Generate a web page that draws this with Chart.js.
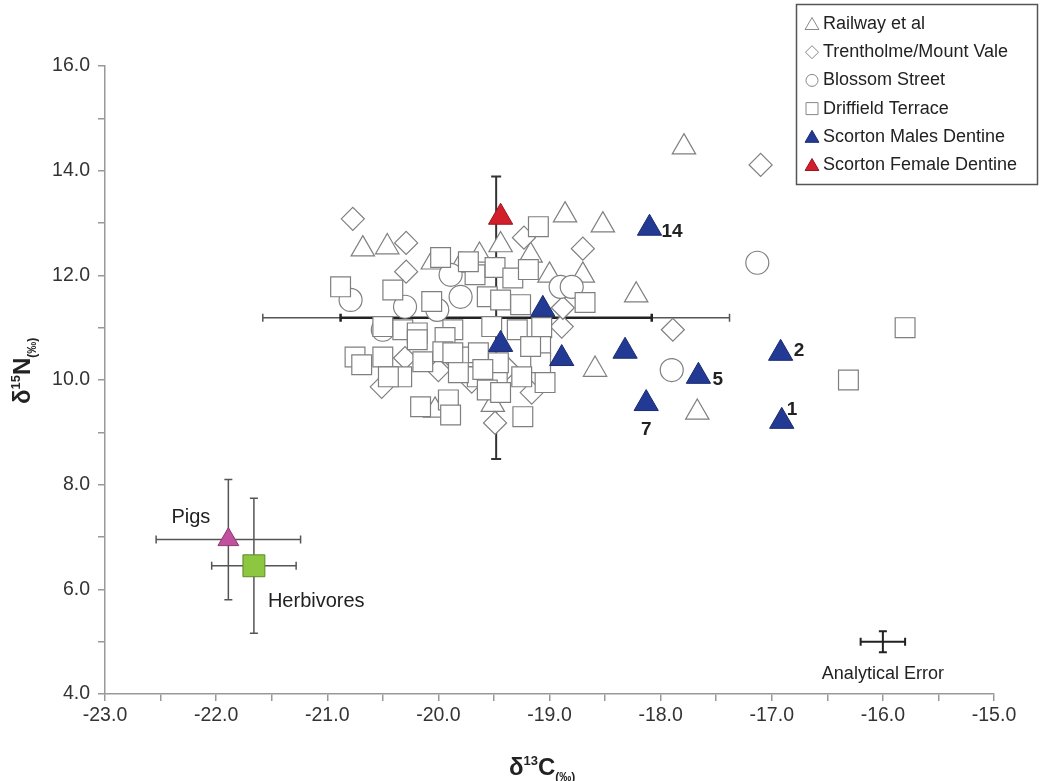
<!DOCTYPE html>
<html>
<head>
<meta charset="utf-8">
<script src="https://cdn.jsdelivr.net/npm/chart.js@4.4.0/dist/chart.umd.min.js"></script>
<style>
  body { margin: 0; background: #fff; }
  #wrap { width: 1043px; height: 781px; position: relative; }
</style>
</head>
<body>
<div id="wrap"><canvas id="grafico"></canvas></div>
<script>
// valores: C = d13C, N = d15N
const railwayC = [-17.79, -18.22, -18.86, -18.52, -18.70, -18.59, -17.67, -20.68, -20.46, -19.44, -19.17, -19.63, -19.80, -19.00, -20.05, -20.03, -19.51];
const railwayN = [14.45, 11.62, 13.15, 12.96, 12.00, 10.20, 9.38, 12.50, 12.54, 12.58, 12.38, 12.38, 12.19, 12.00, 12.25, 9.42, 9.53];

const trentC = [-17.10, -20.77, -20.29, -20.29, -19.23, -18.70, -17.89, -18.89, -18.88, -19.49, -20.51, -20.00, -19.70, -19.16, -19.38, -20.30, -19.83];
const trentN = [14.11, 13.08, 12.62, 12.07, 12.72, 12.51, 10.96, 11.02, 11.38, 9.18, 9.87, 10.19, 9.97, 9.76, 10.23, 10.42, 10.33];

const blossomC = [-17.13, -17.90, -20.79, -20.30, -19.89, -19.80, -18.90, -18.80, -20.50, -20.01];
const blossomN = [12.24, 10.19, 11.53, 11.40, 12.01, 11.59, 11.78, 11.78, 10.96, 11.34];

const driffieldC = [-19.10, -19.98, -20.88, -20.41, -20.06, -19.67, -19.49, -19.33, -19.19, -19.56, -19.44, -19.26, -18.68,
  -20.50, -20.32, -20.19, -19.87, -19.52, -19.29, -19.07, -19.08, -19.08, -19.71, -19.65, -19.47, -19.25, -19.04, -19.56,
  -19.44, -20.19, -19.94, -20.75, -20.69, -20.50, -20.33, -20.45, -20.14, -19.96, -19.91, -20.16, -19.89, -19.24, -19.64,
  -19.87, -19.73, -19.46, -19.17, -19.82, -19.60, -16.31, -15.80];
const driffieldN = [12.93, 12.34, 11.78, 11.72, 11.50, 12.01, 12.15, 11.95, 12.11, 11.59, 11.53, 11.44, 11.48,
  11.02, 10.96, 10.90, 10.96, 11.02, 10.96, 11.00, 10.64, 10.33, 10.44, 10.06, 10.14, 10.06, 9.95, 9.81,
  9.76, 10.77, 10.81, 10.44, 10.29, 10.44, 10.06, 10.06, 10.35, 10.54, 9.62, 9.49, 9.33, 9.30, 10.52,
  10.52, 12.26, 10.33, 10.64, 10.14, 10.20, 10.00, 11.00];

const malesC = [-18.10, -19.06, -19.44, -18.89, -18.32, -17.66, -16.92, -18.13, -16.91];
const malesN = [12.90, 11.35, 10.68, 10.41, 10.55, 10.07, 10.51, 9.55, 9.21];
const malesTag = ['14', '', '', '', '', '5', '2', '7', '1'];

const femaleC = [-19.44];
const femaleN = [13.11];

const pigC = [-21.89], pigN = [6.95], pigErrC = [0.65], pigErrN = [1.15];
const herbC = [-21.66], herbN = [6.45], herbErrC = [0.38], herbErrN = [1.29];

// media con dos rangos en C
const meanC = [-19.48], meanN = [11.19], meanErrC1 = [1.4], meanErrC2 = [2.1], meanErrN = [2.7];
const analC = [-16.0], analN = [5.0], analErr = [0.2];

const xMin = -23, xMax = -15, yMin = 4, yMax = 16;

const legendNames = ['Railway et al', 'Trentholme/Mount Vale', 'Blossom Street', 'Driffield Terrace', 'Scorton Males Dentine', 'Scorton Female Dentine'];

// posiciones de las etiquetas numericas respecto al punto (px)
const tagOffset = { '14': [12, 9, 'left'], '5': [14, 9, 'left'], '2': [13, 3, 'left'], '1': [5, -6, 'left'], '7': [0, 31, 'center'] };

const FONT = "'Liberation Sans', Arial, sans-serif";
const grisBorde = '#7f7f7f';

function puntos(cs, ns) {
    return cs.map((c, i) => ({ x: c, y: ns[i] }));
}

function abierto(label, cs, ns, estilo, radio, orden) {
    return {
        label: label,
        data: puntos(cs, ns),
        pointStyle: estilo,
        pointRadius: radio,
        pointHoverRadius: radio,
        backgroundColor: '#ffffff',
        borderColor: grisBorde,
        borderWidth: 1.2,
        order: orden
    };
}

function errorCruz(ctx, xs, ys, c, n, eC, eN, cap, lw, color) {
    const px = xs.getPixelForValue(c), py = ys.getPixelForValue(n);
    ctx.save();
    ctx.strokeStyle = color;
    ctx.lineWidth = lw;
    ctx.beginPath();
    if (eC) {
        const a = xs.getPixelForValue(c - eC), b = xs.getPixelForValue(c + eC);
        ctx.moveTo(a, py); ctx.lineTo(b, py);
        ctx.moveTo(a, py - cap); ctx.lineTo(a, py + cap);
        ctx.moveTo(b, py - cap); ctx.lineTo(b, py + cap);
    }
    if (eN) {
        const a = ys.getPixelForValue(n - eN), b = ys.getPixelForValue(n + eN);
        ctx.moveTo(px, a); ctx.lineTo(px, b);
        ctx.moveTo(px - cap, a); ctx.lineTo(px + cap, a);
        ctx.moveTo(px - cap, b); ctx.lineTo(px + cap, b);
    }
    ctx.stroke();
    ctx.restore();
}

function marcador(ctx, tipo, x, y, r, fill, stroke) {
    ctx.save();
    ctx.fillStyle = fill;
    ctx.strokeStyle = stroke;
    ctx.lineWidth = 1;
    ctx.beginPath();
    if (tipo === 'triangle') {
        ctx.moveTo(x, y - r);
        ctx.lineTo(x + r * 0.866, y + r * 0.5);
        ctx.lineTo(x - r * 0.866, y + r * 0.5);
        ctx.closePath();
    } else if (tipo === 'rectRot') {
        ctx.moveTo(x - r, y); ctx.lineTo(x, y - r); ctx.lineTo(x + r, y); ctx.lineTo(x, y + r);
        ctx.closePath();
    } else if (tipo === 'circle') {
        ctx.arc(x, y, r, 0, Math.PI * 2);
    } else {
        ctx.rect(x - r * 0.75, y - r * 0.75, r * 1.5, r * 1.5);
    }
    ctx.fill();
    ctx.stroke();
    ctx.restore();
}

function textoRico(ctx, partes, x, y) {
    let cx = x;
    partes.forEach(p => {
        ctx.font = 'bold ' + p.size + 'px ' + FONT;
        ctx.fillText(p.t, cx, y + (p.dy || 0));
        cx += ctx.measureText(p.t).width;
    });
}

const extras = {
    id: 'extras',
    beforeDatasetsDraw(chart) {
        const ctx = chart.ctx, xs = chart.scales.x, ys = chart.scales.y;
        // cruz central
        errorCruz(ctx, xs, ys, meanC[0], meanN[0], meanErrC2[0], 0, 4, 1.5, '#555');
        errorCruz(ctx, xs, ys, meanC[0], meanN[0], meanErrC1[0], 0, 4, 2.5, '#222');
        errorCruz(ctx, xs, ys, meanC[0], meanN[0], 0, meanErrN[0], 5, 2, '#333');
        // cerdos y herbivoros
        errorCruz(ctx, xs, ys, pigC[0], pigN[0], pigErrC[0], pigErrN[0], 4, 1.5, '#555');
        errorCruz(ctx, xs, ys, herbC[0], herbN[0], herbErrC[0], herbErrN[0], 4, 1.5, '#555');
        // error analitico
        errorCruz(ctx, xs, ys, analC[0], analN[0], analErr[0], analErr[0], 4, 2, '#222');
    },
    afterDatasetsDraw(chart) {
        const ctx = chart.ctx, xs = chart.scales.x, ys = chart.scales.y;
        ctx.save();
        ctx.fillStyle = '#222';
        ctx.textBaseline = 'alphabetic';

        ctx.font = 'bold 19px ' + FONT;
        malesTag.forEach((t, i) => {
            if (!t) return;
            const off = tagOffset[t];
            ctx.textAlign = off[2];
            ctx.fillText(t, xs.getPixelForValue(malesC[i]) + off[0], ys.getPixelForValue(malesN[i]) + off[1]);
        });

        ctx.font = '20px ' + FONT;
        ctx.textAlign = 'right';
        ctx.fillText('Pigs', xs.getPixelForValue(pigC[0]) - 18, ys.getPixelForValue(pigN[0]) - 17);
        ctx.textAlign = 'left';
        ctx.fillText('Herbivores', xs.getPixelForValue(herbC[0]) + 14, ys.getPixelForValue(herbN[0]) + 41);
        ctx.font = '18px ' + FONT;
        ctx.textAlign = 'center';
        ctx.fillText('Analytical Error', xs.getPixelForValue(analC[0]), ys.getPixelForValue(analN[0]) + 37);
        ctx.restore();
    },
    afterDraw(chart) {
        const ctx = chart.ctx;
        ctx.save();
        // leyenda
        ctx.fillStyle = '#fff';
        ctx.fillRect(796, 4, 242, 181);
        ctx.strokeStyle = '#555';
        ctx.lineWidth = 1.5;
        ctx.strokeRect(796.5, 4.5, 241, 180);
        const estilos = [
            ['triangle', 8, '#fff', '#888'],
            ['rectRot', 6.5, '#fff', '#888'],
            ['circle', 6, '#fff', '#888'],
            ['rect', 8, '#fff', '#888'],
            ['triangle', 8, '#233a95', '#1a2a70'],
            ['triangle', 8, '#d21f2b', '#9a1620']
        ];
        ctx.font = '18px ' + FONT;
        ctx.textBaseline = 'middle';
        ctx.textAlign = 'left';
        legendNames.forEach((nombre, i) => {
            const y = 24 + i * 28.2;
            const e = estilos[i];
            marcador(ctx, e[0], 812, e[0] === 'triangle' ? y + 1.5 : y, e[1], e[2], e[3]);
            ctx.fillStyle = '#222';
            ctx.fillText(nombre, 823, y);
        });

        // titulos de ejes
        ctx.fillStyle = '#222';
        ctx.textBaseline = 'alphabetic';
        textoRico(ctx, [
            { t: 'δ', size: 24 },
            { t: '13', size: 13, dy: -10 },
            { t: 'C', size: 24 },
            { t: '(‰)', size: 12, dy: 6 }
        ], 509, 775);
        ctx.save();
        ctx.translate(30, 404);
        ctx.rotate(-Math.PI / 2);
        textoRico(ctx, [
            { t: 'δ', size: 24 },
            { t: '15', size: 13, dy: -10 },
            { t: 'N', size: 24 },
            { t: '(‰)', size: 12, dy: 6 }
        ], 0, 0);
        ctx.restore();
        ctx.restore();
    }
};

const ctx = document.querySelector('#grafico').getContext('2d');
const grafico = new Chart(ctx, {
    type: 'scatter',
    data: {
        datasets: [
            abierto(legendNames[0], railwayC, railwayN, 'triangle', 13.5, 6),
            abierto(legendNames[1], trentC, trentN, 'rectRot', 11.5, 5),
            abierto(legendNames[2], blossomC, blossomN, 'circle', 11.5, 4),
            abierto(legendNames[3], driffieldC, driffieldN, 'rect', 14, 3),
            {
                label: 'Pigs',
                data: puntos(pigC, pigN),
                pointStyle: 'triangle',
                pointRadius: 12,
                backgroundColor: '#c1519e',
                borderColor: '#8a3a72',
                borderWidth: 1,
                order: 2
            },
            {
                label: 'Herbivores',
                data: puntos(herbC, herbN),
                pointStyle: 'rect',
                pointRadius: 15.5,
                backgroundColor: '#8dc63f',
                borderColor: '#5e8a2a',
                borderWidth: 1,
                order: 2
            },
            {
                label: legendNames[4],
                data: puntos(malesC, malesN),
                pointStyle: 'triangle',
                pointRadius: 14,
                backgroundColor: '#233a95',
                borderColor: '#1a2a70',
                borderWidth: 1,
                order: 1
            },
            {
                label: legendNames[5],
                data: puntos(femaleC, femaleN),
                pointStyle: 'triangle',
                pointRadius: 14,
                backgroundColor: '#d21f2b',
                borderColor: '#9a1620',
                borderWidth: 1,
                order: 0
            }
        ]
    },
    options: {
        responsive: true,
        maintainAspectRatio: false,
        animation: false,
        layout: { padding: { top: 66, right: 49, left: 0, bottom: 0 } },
        plugins: {
            legend: { display: false },
            tooltip: { enabled: false }
        },
        scales: {
            x: {
                type: 'linear',
                min: xMin,
                max: xMax,
                afterFit: s => { s.height = 87; },
                border: { color: '#999', width: 1.5 },
                grid: { drawOnChartArea: false, color: '#999', tickLength: 7, lineWidth: 1.5 },
                ticks: {
                    stepSize: 0.5,
                    autoSkip: false,
                    maxRotation: 0,
                    padding: 3,
                    color: '#333',
                    font: { family: FONT, size: 19.5 },
                    callback: v => (v % 1 === 0 ? v.toFixed(1) : '')
                }
            },
            y: {
                type: 'linear',
                min: yMin,
                max: yMax,
                afterFit: s => { s.width = 105; },
                border: { color: '#999', width: 1.5 },
                grid: { drawOnChartArea: false, color: '#999', tickLength: 7, lineWidth: 1.5 },
                ticks: {
                    stepSize: 1,
                    autoSkip: false,
                    padding: 8,
                    color: '#333',
                    font: { family: FONT, size: 19.5 },
                    callback: v => (v % 2 === 0 ? v.toFixed(1) : '')
                }
            }
        }
    },
    plugins: [extras]
});
</script>
</body>
</html>
